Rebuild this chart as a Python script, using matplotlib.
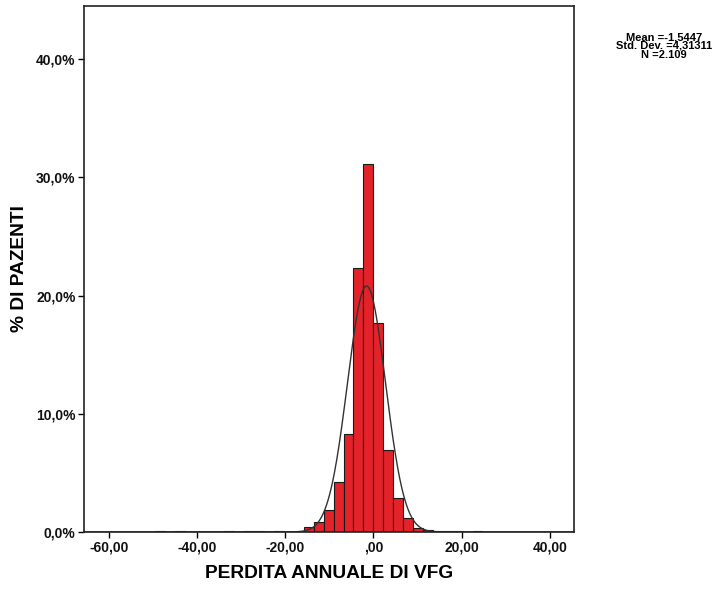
import numpy as np
import matplotlib
matplotlib.use("Agg")
import matplotlib.pyplot as plt

plt.rcParams['font.family'] = ['Liberation Sans', 'DejaVu Sans']
plt.rcParams['font.weight'] = 'bold'

# histogram bins (left edges, width 2.25) and percent of patients
bin_width = 2.25
bin_left = np.arange(-49.5, 24.75, bin_width)
pct = [0.05, 0, 0.05, 0, 0, 0, 0, 0.05, 0, 0.05, 0.05, 0, 0.05, 0, 0,
       0.4, 0.87, 1.86, 4.2, 8.25, 22.3, 31.1, 17.7, 6.9, 2.9, 1.16,
       0.3, 0.17, 0.1, 0.05, 0.05, 0, 0.05]

mean = -1.5447
std = 4.31311
n_txt = "2.109"

xticks = [-60, -40, -20, 0, 20, 40]
xtick_labels = ["-60,00", "-40,00", "-20,00", ",00", "20,00", "40,00"]
yticks = [0, 10, 20, 30, 40]
ytick_labels = ["0,0%", "10,0%", "20,0%", "30,0%", "40,0%"]

fig = plt.figure(figsize=(7.26, 5.90), dpi=100)
ax = fig.add_axes([84/726, 1-532/590, (574-84)/726, (532-6)/590])

ax.bar(bin_left, pct, width=bin_width, align='edge', color='#e32229',
       edgecolor='#1a1a1a', linewidth=0.8)

xs = np.linspace(-65.6, 45.5, 600)
curve = bin_width * 100 / (std * np.sqrt(2*np.pi)) * np.exp(-0.5*((xs-mean)/std)**2)
ax.plot(xs, curve, color='#333333', linewidth=1.0)

ax.set_xlim(-65.6, 45.5)
ax.set_ylim(0, 44.5)
ax.set_xticks(xticks)
ax.set_xticklabels(xtick_labels)
ax.set_yticks(yticks)
ax.set_yticklabels(ytick_labels)
ax.tick_params(direction='out', length=4, width=1, labelsize=10, pad=2, labelcolor='#111111')
for s in ax.spines.values():
    s.set_linewidth(1.2)
    s.set_color('#222222')

ax.set_xlabel("PERDITA ANNUALE DI VFG", fontsize=13.8, fontweight='bold', labelpad=8)
ax.set_ylabel("% DI PAZENTI", fontsize=13.8, fontweight='bold', labelpad=6)

fig.text(664/726, 1-37/590, "Mean =-1,5447", ha='center', va='center', fontsize=8, fontweight='bold')
fig.text(664/726, 1-46/590, "Std. Dev. =4,31311", ha='center', va='center', fontsize=8, fontweight='bold')
fig.text(664/726, 1-55/590, "N =" + n_txt, ha='center', va='center', fontsize=8, fontweight='bold')

fig.savefig("out.png", dpi=100)
